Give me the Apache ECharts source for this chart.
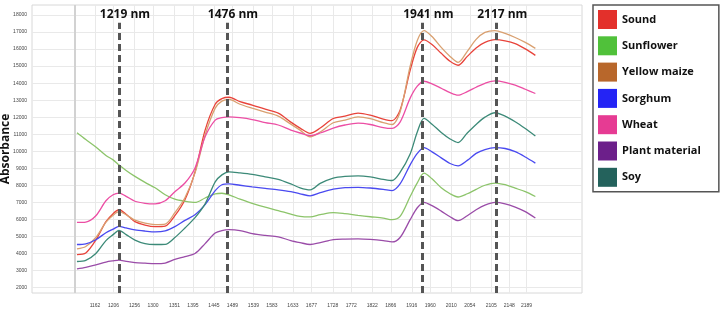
<!DOCTYPE html>
<html>
<head>
<meta charset="utf-8">
<script src="https://cdn.jsdelivr.net/npm/echarts@6/dist/echarts.min.js"></script>
<style>
html, body { margin: 0; padding: 0; background: #fff; }
#chart { width: 723px; height: 310px; }
</style>
</head>
<body>
<div id="chart"></div>
<script>
// wavelength (nm) of each sample
var wavelengths = [1119, 1140, 1164, 1188, 1205, 1219, 1236, 1257, 1281, 1305, 1329, 1352, 1376, 1400, 1424, 1448, 1464, 1481, 1507, 1536, 1567, 1598, 1628, 1650, 1674, 1698, 1729, 1757, 1788, 1817, 1848, 1869, 1888, 1912, 1929, 1945, 1964, 1986, 2007, 2026, 2048, 2069, 2090, 2114, 2138, 2162, 2186, 2210];

var sound = [3930, 4020, 4780, 5860, 6330, 6560, 6300, 5860, 5660, 5570, 5600, 6210, 7150, 8790, 11240, 12760, 13090, 13170, 12910, 12710, 12470, 12240, 11710, 11360, 11050, 11360, 11920, 12060, 12240, 12120, 11890, 11800, 12410, 14750, 16100, 16540, 16270, 15750, 15280, 15050, 15570, 16070, 16390, 16550, 16480, 16320, 16010, 15630];
var sunflower = [11090, 10690, 10250, 9750, 9490, 9200, 8870, 8520, 8170, 7850, 7440, 7180, 7060, 6990, 7250, 7500, 7530, 7440, 7180, 6940, 6710, 6510, 6300, 6170, 6140, 6270, 6390, 6330, 6230, 6150, 6070, 5980, 6170, 7340, 8140, 8710, 8380, 7850, 7500, 7310, 7500, 7760, 8000, 8130, 8030, 7830, 7620, 7340];
var yellowMaize = [4260, 4400, 4930, 5830, 6240, 6450, 6270, 5950, 5770, 5690, 5720, 6390, 7270, 8730, 10950, 12530, 12940, 13040, 12760, 12530, 12300, 12060, 11590, 11240, 10850, 11130, 11670, 11830, 12020, 11920, 11680, 11570, 12300, 14990, 16510, 17090, 16740, 16100, 15570, 15220, 15870, 16570, 16980, 17090, 16920, 16680, 16390, 16040];
var sorghum = [4520, 4560, 4800, 5210, 5420, 5590, 5490, 5380, 5310, 5260, 5320, 5570, 5940, 6270, 6860, 7680, 8030, 8080, 8000, 7910, 7820, 7730, 7620, 7500, 7380, 7560, 7770, 7860, 7880, 7840, 7760, 7690, 8080, 9200, 9870, 10210, 9960, 9610, 9280, 9140, 9460, 9870, 10100, 10210, 10160, 9970, 9660, 9300];
var wheat = [5820, 5840, 6210, 7090, 7440, 7540, 7350, 7060, 6940, 6910, 7090, 7620, 8130, 9020, 10850, 11830, 11970, 12020, 11970, 11860, 11680, 11540, 11240, 11070, 10920, 11070, 11360, 11540, 11650, 11570, 11390, 11340, 11710, 13120, 13820, 14110, 13960, 13700, 13440, 13290, 13500, 13760, 13990, 14130, 14050, 13880, 13640, 13390];
var plantMaterial = [3090, 3180, 3320, 3490, 3560, 3600, 3530, 3460, 3420, 3390, 3430, 3640, 3810, 3990, 4570, 5190, 5340, 5390, 5340, 5160, 5050, 4970, 4750, 4630, 4520, 4630, 4810, 4840, 4850, 4820, 4750, 4670, 4930, 5980, 6680, 7000, 6800, 6480, 6150, 5920, 6210, 6560, 6830, 6990, 6910, 6720, 6450, 6080];
var soy = [3520, 3590, 3990, 4750, 5100, 5350, 5100, 4780, 4570, 4520, 4530, 4930, 5490, 6100, 6910, 8200, 8610, 8790, 8730, 8640, 8490, 8350, 8080, 7850, 7730, 8110, 8420, 8520, 8550, 8490, 8350, 8280, 8760, 9840, 11130, 11930, 11590, 11100, 10720, 10510, 11070, 11570, 12000, 12260, 12060, 11730, 11330, 10890];

var seriesNames = ['Sound', 'Sunflower', 'Yellow maize', 'Sorghum', 'Wheat', 'Plant material', 'Soy'];
var xTickLabels = [1162, 1206, 1256, 1300, 1351, 1395, 1445, 1489, 1539, 1583, 1633, 1677, 1728, 1772, 1822, 1866, 1916, 1960, 2010, 2054, 2105, 2148, 2189];
var yTickLabels = [2000, 3000, 4000, 5000, 6000, 7000, 8000, 9000, 10000, 11000, 12000, 13000, 14000, 15000, 16000, 17000, 18000];
var peakLines = [1219, 1476, 1941, 2117];

var lineColors = ['#e8433a', '#8cc46a', '#d9a070', '#4a4af0', '#ec4ea4', '#9a4ca8', '#3c8a78'];
var legendColors = ['#e3302b', '#50c13a', '#b8672b', '#2424f5', '#e63b93', '#6c1f8a', '#24625c'];

var chart = echarts.init(document.getElementById('chart'));

var allData = [sound, sunflower, yellowMaize, sorghum, wheat, plantMaterial, soy];
var yMin = 1670;

var series = allData.map(function (arr, i) {
    return {
        name: seriesNames[i],
        type: 'line',
        smooth: 0.3,
        symbol: 'none',
        data: wavelengths.map(function (w, j) { return [w, arr[j]]; }),
        lineStyle: { color: lineColors[i], width: 1.3 },
        itemStyle: { color: lineColors[i] },
        emphasis: { disabled: true }
    };
});

// dashed peak markers + the grey start line
var peakData = peakLines.map(function (w) {
    return [
        { name: w + ' nm', coord: [w, yMin] },
        { coord: [w, 17550] }
    ];
});
peakData.push({
    xAxis: wavelengths[0] - 5,
    label: { show: false },
    lineStyle: { type: 'solid', color: '#d2d2d2', width: 2 }
});

series[0].markLine = {
    silent: true,
    symbol: 'none',
    lineStyle: { type: [7, 4], color: '#555', width: 3 },
    label: {
        show: true,
        position: 'end',
        formatter: '{b}',
        distance: 2,
        offset: [6, 0],
        color: '#111',
        fontSize: 12,
        fontWeight: 'bold',
        fontFamily: 'Open Sans'
    },
    data: peakData
};

function plain(v) { return String(v); }

chart.setOption({
    animation: false,
    grid: {
        left: 32, right: 141, top: 5, bottom: 17,
        outerBoundsMode: 'none',
        containLabel: false,
        show: true, borderColor: '#d8d8d8', borderWidth: 1
    },
    legend: {
        orient: 'vertical',
        left: 593, top: 5,
        icon: 'rect',
        itemWidth: 19, itemHeight: 19, itemGap: 7.3,
        padding: [5, 18, 5, 5],
        borderColor: '#555', borderWidth: 1.5,
        selectedMode: false,
        textStyle: { color: '#111', fontSize: 11, fontWeight: 'bold', fontFamily: 'Open Sans' },
        data: seriesNames.map(function (n, i) {
            return { name: n, itemStyle: { color: legendColors[i] } };
        })
    },
    xAxis: {
        type: 'value',
        min: 1012, max: 2321,
        axisLine: { show: false },
        axisTick: { show: false, customValues: xTickLabels },
        axisLabel: { customValues: xTickLabels, formatter: plain, fontSize: 5, color: '#444', margin: 10, fontFamily: 'Liberation Sans' },
        splitLine: { show: true, lineStyle: { color: '#e9e9e9', width: 1 } }
    },
    yAxis: {
        type: 'value',
        min: yMin, max: 18590,
        name: 'Absorbance',
        nameLocation: 'middle',
        nameGap: 20,
        nameMoveOverlap: false,
        nameTextStyle: { color: '#111', fontSize: 12, fontWeight: 'bold', fontFamily: 'Open Sans' },
        axisLine: { show: false },
        axisTick: { show: false, customValues: yTickLabels },
        axisLabel: { customValues: yTickLabels, formatter: plain, fontSize: 5, color: '#444', margin: 5, fontFamily: 'Liberation Sans' },
        splitLine: { show: true, lineStyle: { color: '#e9e9e9', width: 1 } }
    },
    series: series
});
</script>
</body>
</html>
